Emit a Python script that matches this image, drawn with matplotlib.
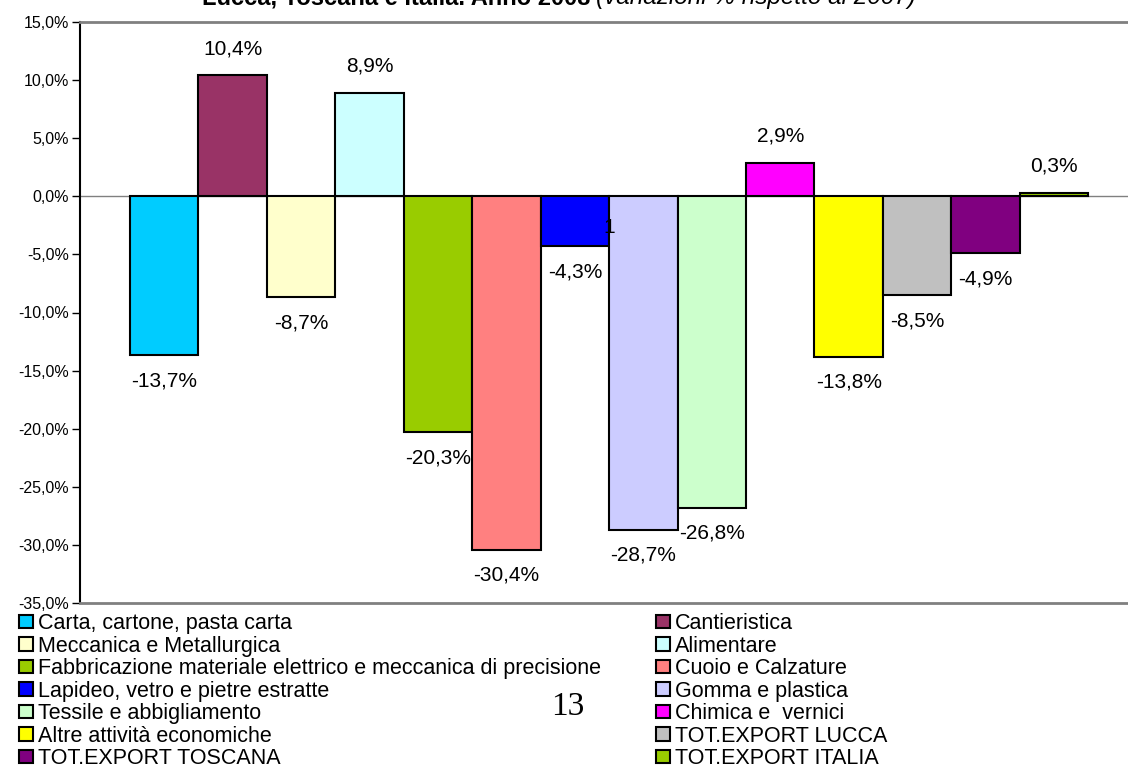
import matplotlib
matplotlib.use("Agg")
import matplotlib.pyplot as plt
import numpy as np
from matplotlib.patches import Patch
from matplotlib.ticker import FuncFormatter, MultipleLocator

settori = ["Carta, cartone, pasta carta", "Cantieristica", "Meccanica e Metallurgica",
           "Alimentare", "Fabbricazione materiale elettrico e meccanica di precisione",
           "Cuoio e Calzature", "Lapideo, vetro e pietre estratte", "Gomma e plastica",
           "Tessile e abbigliamento", "Chimica e  vernici", "Altre attività economiche",
           "TOT.EXPORT LUCCA", "TOT.EXPORT TOSCANA", "TOT.EXPORT ITALIA"]
variazioni = [-13.7, 10.4, -8.7, 8.9, -20.3, -30.4, -4.3, -28.7, -26.8, 2.9, -13.8,
              -8.5, -4.9, 0.3]
colori = ["#00CCFF", "#993366", "#FFFFCC", "#CCFFFF", "#99CC00", "#FF8080", "#0000FF",
          "#CCCCFF", "#CCFFCC", "#FF00FF", "#FFFF00", "#C0C0C0", "#800080", "#99CC00"]

plt.rcParams['font.family'] = ['Liberation Sans', 'DejaVu Sans']

W, H = 1128, 771
fig = plt.figure(figsize=(W / 100, H / 100), dpi=100)
ax = fig.add_axes([80 / W, 1 - 603 / H, 1 - 80 / W, (603 - 22) / H])

x = np.arange(len(variazioni))
ax.bar(x, variazioni, width=1.0, color=colori, edgecolor="black", linewidth=1.5)
ax.axhline(0, color="#808080", lw=1, zorder=0)

for xi, v in zip(x, variazioni):
    lab = f"{v:.1f}%".replace(".", ",")
    off = 19 if v > 0 else -18.5
    ax.annotate(lab, (xi, v), xytext=(0, off), textcoords="offset points",
                ha="center", va="center", fontsize=15)

ax.set_ylim(-35, 15)
ax.set_xlim(-1.23, 14.08)
ax.yaxis.set_major_locator(MultipleLocator(5))
ax.yaxis.set_major_formatter(FuncFormatter(lambda v, p: f"{v:.1f}%".replace(".", ",")))
ax.tick_params(axis="y", labelsize=11.5, length=6, width=1, pad=2)
ax.set_xticks([])
ax.spines["left"].set_color("black")
ax.spines["left"].set_linewidth(1.5)
for s in ("top", "bottom"):
    ax.spines[s].set_color("#808080")
    ax.spines[s].set_linewidth(2)
ax.spines["right"].set_visible(False)

# testo residuo dell'impaginazione originale
ax.text(6.5, -2.7, "1", fontsize=15, ha="center", va="center")

handles = [Patch(facecolor=c, edgecolor="black", linewidth=1.5, label=s)
           for s, c in zip(settori, colori)]
leg_kw = dict(loc="upper left", frameon=False, fontsize=15.5, handlelength=0.65,
              handleheight=0.6, handletextpad=0.25, labelspacing=0.07,
              borderpad=0, borderaxespad=0)
fig.legend(handles=handles[0::2], bbox_to_anchor=(19 / W, 1 - 613 / H), **leg_kw)
fig.legend(handles=handles[1::2], bbox_to_anchor=(656 / W, 1 - 613 / H), **leg_kw)

# titolo tagliato in alto come nell'originale
fig.text(590 / W, 1 - 4 / H, "Lucca, Toscana e Italia. Anno 2008", fontsize=17,
         fontweight="bold", ha="right", va="baseline")
fig.text(596 / W, 1 - 4 / H, "(variazioni % rispetto al 2007)", fontsize=17.5,
         fontstyle="italic", ha="left", va="baseline")

fig.text(568 / W, 1 - 707 / H, "13", fontsize=24, family="Liberation Serif",
         ha="center", va="center")

fig.savefig("out.png", dpi=100)
